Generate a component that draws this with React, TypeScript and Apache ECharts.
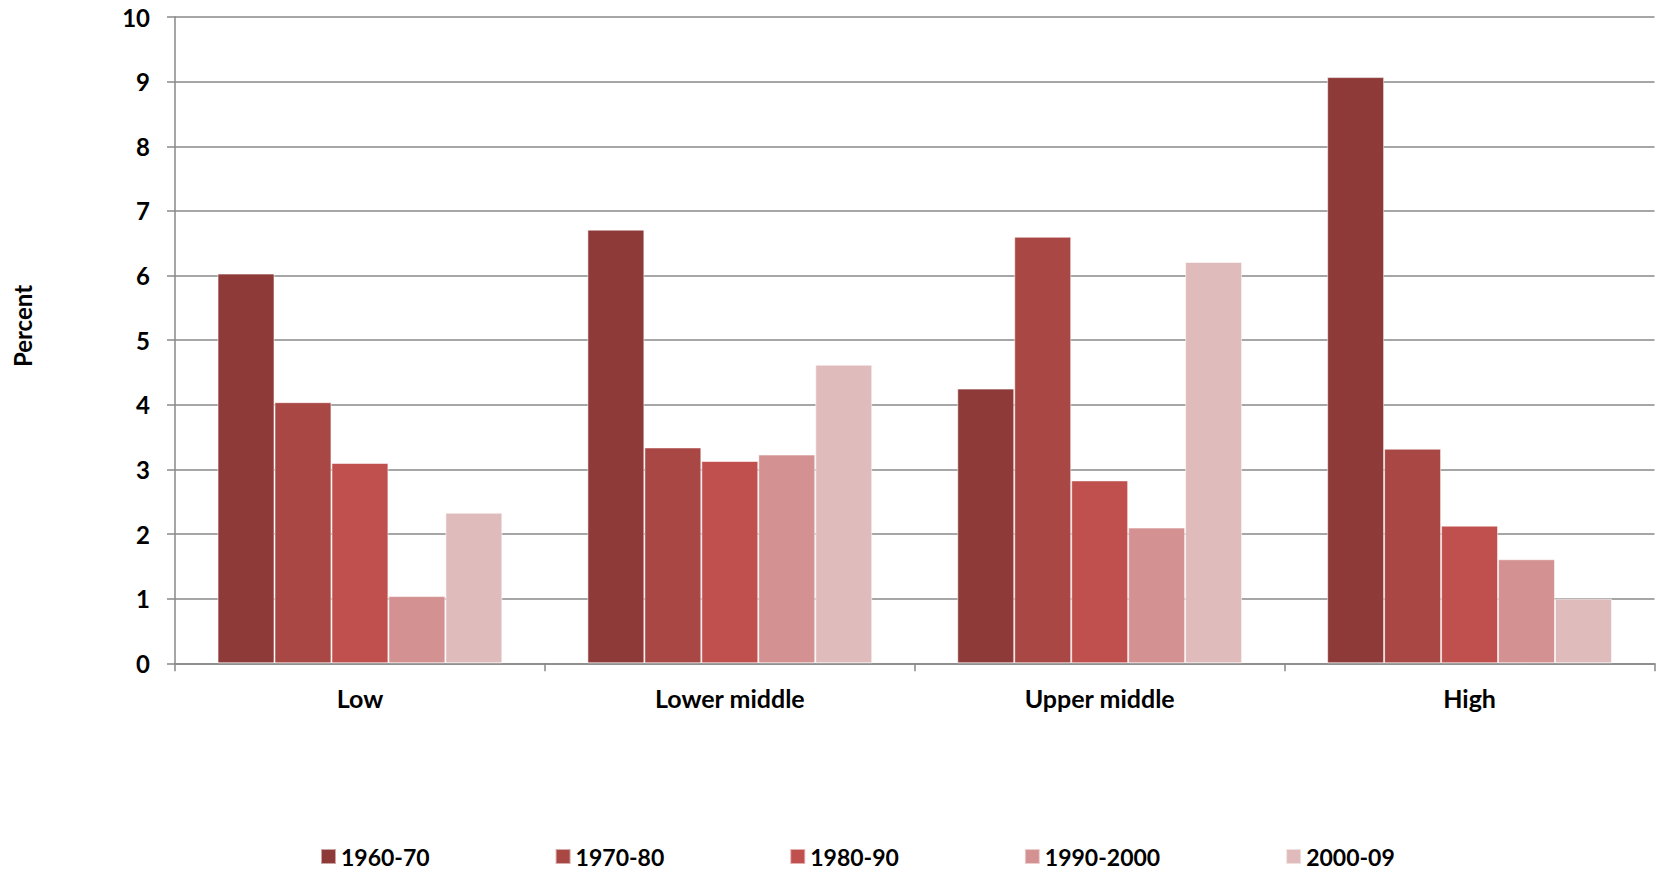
import React, { useEffect, useRef } from "react";
import * as echarts from "echarts";

const categories = ["Low", "Lower middle", "Upper middle", "High"];
const seriesNames = ["1960-70", "1970-80", "1980-90", "1990-2000", "2000-09"];
const s1960 = [6.03, 6.71, 4.25, 9.07];
const s1970 = [4.04, 3.34, 6.6, 3.32];
const s1980 = [3.1, 3.13, 2.83, 2.13];
const s1990 = [1.04, 3.23, 2.1, 1.61];
const s2000 = [2.33, 4.62, 6.21, 1.0];
const seriesValues = [s1960, s1970, s1980, s1990, s2000];
const colors = ["#8E3A38", "#A94745", "#C0504D", "#D39291", "#E0BBBB"];
const yTicks = { min: 0, max: 10, interval: 1 };

const FONT = "Lato, 'Open Sans', sans-serif";

export default function App() {
  const ref = useRef<HTMLDivElement>(null);
  useEffect(() => {
    if (!ref.current) return;
    const chart = echarts.init(ref.current, null, { renderer: "svg" });
    chart.setOption({
      animation: false,
      backgroundColor: "#ffffff",
      grid: { left: 175, right: 8.5, top: 17, bottom: 208.7, containLabel: false },
      legend: {
        data: seriesNames,
        left: 320,
        top: 845,
        padding: 0,
        itemWidth: 15,
        itemHeight: 15,
        itemGap: 125,
        icon: "rect",
        textStyle: { fontFamily: FONT, fontWeight: "bold", fontSize: 23, color: "#000", lineHeight: 23 },
      },
      xAxis: {
        type: "category",
        data: categories,
        axisLine: { show: true, lineStyle: { color: "#888", width: 1.5 } },
        axisTick: { show: true, length: 8, lineStyle: { color: "#888", width: 1.5 } },
        axisLabel: { fontFamily: FONT, fontWeight: "bold", fontSize: 25, color: "#000", margin: 22, lineHeight: 25 },
      },
      yAxis: {
        type: "value",
        min: yTicks.min,
        max: yTicks.max,
        interval: yTicks.interval,
        axisLine: { show: true, lineStyle: { color: "#888", width: 1.5 } },
        axisTick: { show: true, length: 8, lineStyle: { color: "#888", width: 1.5 } },
        splitLine: { show: true, lineStyle: { color: "#888", width: 1.5 } },
        axisLabel: { fontFamily: FONT, fontWeight: "bold", fontSize: 24, color: "#000", margin: 25 },
      },
      graphic: [
        {
          type: "text",
          x: 22,
          y: 326,
          rotation: Math.PI / 2,
          style: {
            text: "Percent",
            fontFamily: FONT,
            fontWeight: "bold",
            fontSize: 24,
            fill: "#000",
            textAlign: "center",
            textVerticalAlign: "middle",
          },
        },
      ],
      series: seriesNames.map((name, i) => ({
        name,
        type: "bar",
        data: seriesValues[i],
        barGap: "0%",
        barCategoryGap: "23%",
        itemStyle: { color: colors[i], borderColor: "rgba(255,255,255,0.55)", borderWidth: 1 },
      })),
    });
    return () => chart.dispose();
  }, []);
  return <div ref={ref} style={{ position: "fixed", left: 0, top: 0, width: 1663, height: 872 }} />;
}
